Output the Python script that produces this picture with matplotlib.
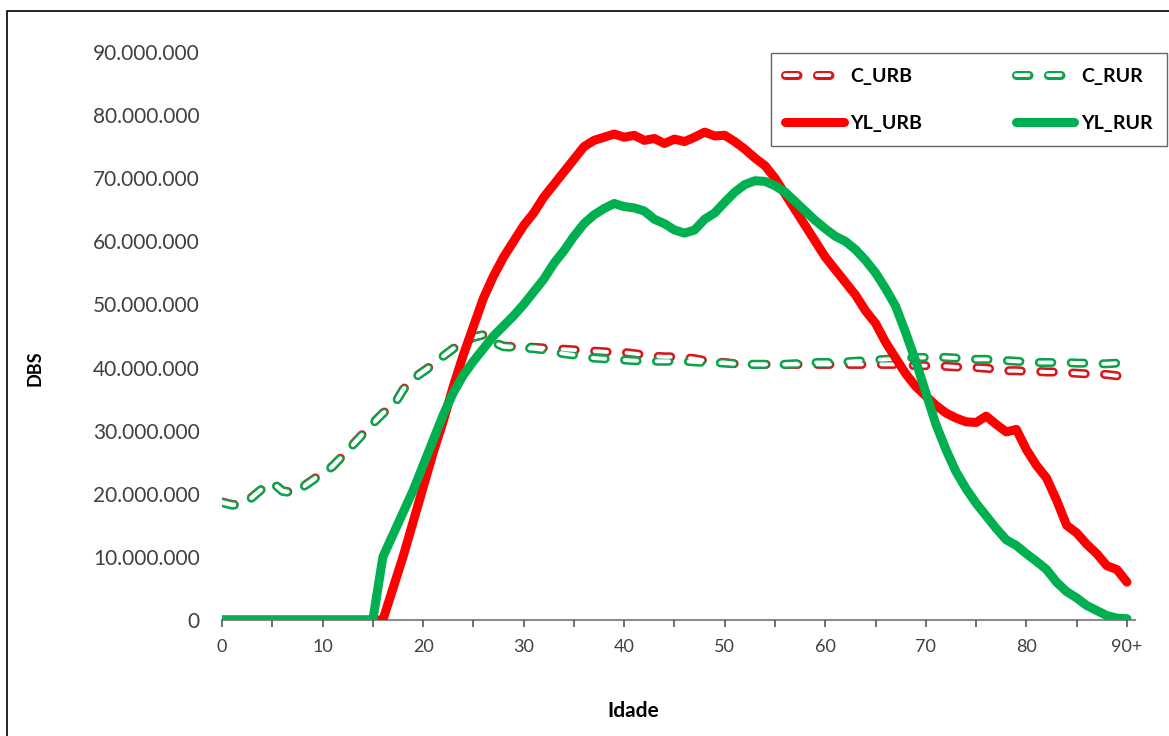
import matplotlib
matplotlib.use('Agg')
import matplotlib.pyplot as plt
from matplotlib.ticker import FuncFormatter, MultipleLocator
from matplotlib.patches import Rectangle

plt.rcParams['font.family'] = ['Lato', 'DejaVu Sans']
plt.rcParams['lines.scale_dashes'] = False

idade = list(range(0, 91))
x_labels = ['0', '10', '20', '30', '40', '50', '60', '70', '80', '90+']

# values in millions
c_urb = [18.7, 18.3, 18.3, 19.5, 20.8, 21.8, 20.5, 20.2, 21.1, 22.2,
         23.3, 24.4, 26.0, 27.8, 29.5, 31.2, 32.8, 33.8, 36.5, 38.3,
         39.4, 40.5, 41.8, 43.0, 44.0, 44.8, 45.2, 44.0, 43.4, 43.3,
         43.3, 43.2, 43.1, 43.0, 42.9, 42.8, 42.7, 42.6, 42.5, 42.4,
         42.4, 42.2, 42.0, 41.8, 41.7, 41.7, 41.6, 41.4, 41.1, 40.9,
         40.8, 40.6, 40.5, 40.5, 40.5, 40.5, 40.5, 40.5, 40.5, 40.5,
         40.5, 40.5, 40.5, 40.5, 40.5, 40.5, 40.5, 40.5, 40.4, 40.3,
         40.3, 40.2, 40.2, 40.1, 40.0, 40.0, 39.9, 39.7, 39.5, 39.5,
         39.4, 39.4, 39.3, 39.3, 39.2, 39.1, 39.0, 39.0, 38.9, 38.7,
         38.5]
c_rur = [18.6, 18.2, 18.2, 19.4, 20.8, 21.8, 20.4, 20.1, 21.0, 22.1,
         23.2, 24.3, 26.0, 27.7, 29.4, 31.1, 32.7, 33.8, 36.4, 38.2,
         39.3, 40.4, 41.8, 43.0, 44.0, 44.8, 45.2, 44.0, 43.3, 43.2,
         43.1, 43.0, 42.8, 42.5, 42.2, 42.0, 41.7, 41.5, 41.4, 41.3,
         41.2, 41.1, 41.0, 41.0, 41.0, 41.0, 41.0, 40.9, 40.8, 40.8,
         40.7, 40.6, 40.5, 40.5, 40.5, 40.5, 40.5, 40.6, 40.7, 40.8,
         40.8, 40.8, 40.9, 41.0, 41.1, 41.2, 41.3, 41.4, 41.5, 41.6,
         41.6, 41.6, 41.6, 41.5, 41.4, 41.3, 41.3, 41.2, 41.1, 41.0,
         40.9, 40.8, 40.8, 40.8, 40.8, 40.7, 40.7, 40.6, 40.6, 40.7,
         40.8]
yl_urb = [0, 0, 0, 0, 0, 0, 0, 0, 0, 0,
          0, 0, 0, 0, 0, 0, 0, 5.0, 10.0, 15.5,
          21.0, 26.5, 31.5, 37.0, 42.0, 46.5, 51.0, 54.5, 57.5, 60.0,
          62.5, 64.5, 67.0, 69.0, 71.0, 73.0, 75.0, 76.0, 76.5, 77.0,
          76.5, 76.8, 76.0, 76.3, 75.5, 76.2, 75.8, 76.5, 77.3, 76.7,
          76.8, 75.8, 74.6, 73.2, 72.0, 70.0, 67.5, 65.0, 62.5, 60.0,
          57.5, 55.5, 53.5, 51.5, 49.0, 47.0, 44.0, 41.5, 39.0, 37.0,
          35.5, 34.0, 32.8, 32.0, 31.4, 31.3, 32.3, 31.0, 29.8, 30.2,
          27.0, 24.5, 22.5, 19.0, 15.0, 13.8, 12.0, 10.5, 8.6, 8.0,
          6.0]
yl_rur = [0, 0, 0, 0, 0, 0, 0, 0, 0, 0,
          0, 0, 0, 0, 0, 0, 10.0, 13.5, 17.0, 20.5,
          24.5, 28.5, 32.5, 36.0, 38.8, 41.0, 43.0, 45.0, 46.6, 48.2,
          50.0, 52.0, 54.0, 56.5, 58.5, 60.8, 62.8, 64.2, 65.2, 66.0,
          65.5, 65.3, 64.8, 63.5, 62.8, 61.8, 61.3, 61.8, 63.5, 64.5,
          66.2, 67.8, 69.0, 69.6, 69.5, 68.8, 67.8, 66.3, 64.8, 63.3,
          62.0, 60.8, 60.0, 58.7, 57.0, 55.0, 52.5, 49.7, 45.5, 41.0,
          36.0, 31.0, 27.0, 23.5, 20.8, 18.5, 16.5, 14.5, 12.7, 11.8,
          10.5, 9.3, 8.0, 6.0, 4.5, 3.5, 2.3, 1.5, 0.7, 0.3,
          0.2]

red = '#FF0000'
green = '#00B050'
red_dash = '#D9161C'
green_dash = '#0AA34C'

fig = plt.figure(figsize=(11.69, 7.36), dpi=100)
ax = fig.add_axes([222 / 1169, 1 - 620 / 736, (1135 - 222) / 1169, (620 - 52) / 736])

M = 1e6
dash = (0, (9, 14))

# hollow dashes: a thick coloured dash with a thinner white dash on top
r_out, = ax.plot(idade, [v * M for v in c_urb], color=red_dash, lw=6.5,
                 linestyle=dash, dash_capstyle='round', zorder=2)
g_out, = ax.plot(idade, [v * M for v in c_rur], color=green_dash, lw=6.5,
                 linestyle=dash, dash_capstyle='round', zorder=2)
r_in, = ax.plot(idade, [v * M for v in c_urb], color='white', lw=2.8,
                linestyle=dash, dash_capstyle='round', zorder=2.1)
g_in, = ax.plot(idade, [v * M for v in c_rur], color='white', lw=2.8,
                linestyle=dash, dash_capstyle='round', zorder=2.1)

l_urb, = ax.plot(idade, [v * M for v in yl_urb], color=red, lw=6.5,
                 solid_capstyle='round', solid_joinstyle='round', zorder=3)
l_rur, = ax.plot(idade, [v * M for v in yl_rur], color=green, lw=6.5,
                 solid_capstyle='round', solid_joinstyle='round', zorder=3.1)

ax.set_xlim(0, 90.8)
ax.set_ylim(0, 90 * M)

ax.set_xticks(list(range(0, 91, 10)))
ax.set_xticklabels(x_labels)
ax.xaxis.set_minor_locator(MultipleLocator(5))
ax.set_yticks([i * 10 * M for i in range(10)])
ax.yaxis.set_major_formatter(FuncFormatter(lambda v, p: f'{int(v):,}'.replace(',', '.')))

for s in ['top', 'right', 'left']:
    ax.spines[s].set_visible(False)
ax.spines['bottom'].set_color('#8C8C8C')
ax.spines['bottom'].set_linewidth(1.5)
ax.spines['bottom'].set_zorder(1)

ax.tick_params(axis='x', which='both', length=5, width=1.2, color='#595959',
               labelsize=13, labelcolor='#404040', pad=9)
ax.tick_params(axis='y', length=0, labelsize=15, labelcolor='#404040', pad=16)

ax.set_xlabel('Idade', fontsize=15, fontweight='bold')
ax.set_ylabel('DBS', fontsize=13, fontweight='bold')
ax.yaxis.set_label_coords(44 / 1169, 0.5, transform=fig.transFigure)
ax.xaxis.set_label_coords(633 / 1169, 1 - 701 / 736, transform=fig.transFigure)

leg = ax.legend([(r_out, r_in), l_urb, (g_out, g_in), l_rur],
                ['C_URB', 'YL_URB', 'C_RUR', 'YL_RUR'],
                ncol=2, loc='upper right', bbox_to_anchor=(1167 / 1169, 1 - 53 / 736),
                bbox_transform=fig.transFigure, fancybox=False, frameon=True,
                edgecolor='#404040', prop={'weight': 'bold', 'size': 14},
                handlelength=3.0, handletextpad=0.35, columnspacing=4.8,
                borderpad=0.75, labelspacing=1.55, borderaxespad=0)
leg.get_frame().set_linewidth(1.0)

# outer frame of the figure
fig.patches.append(Rectangle((7 / 1169, -0.05), 1.1, 1.05 - 11 / 736,
                             transform=fig.transFigure, fill=False,
                             edgecolor='black', lw=1.2))

plt.savefig('out.png', dpi=100)
